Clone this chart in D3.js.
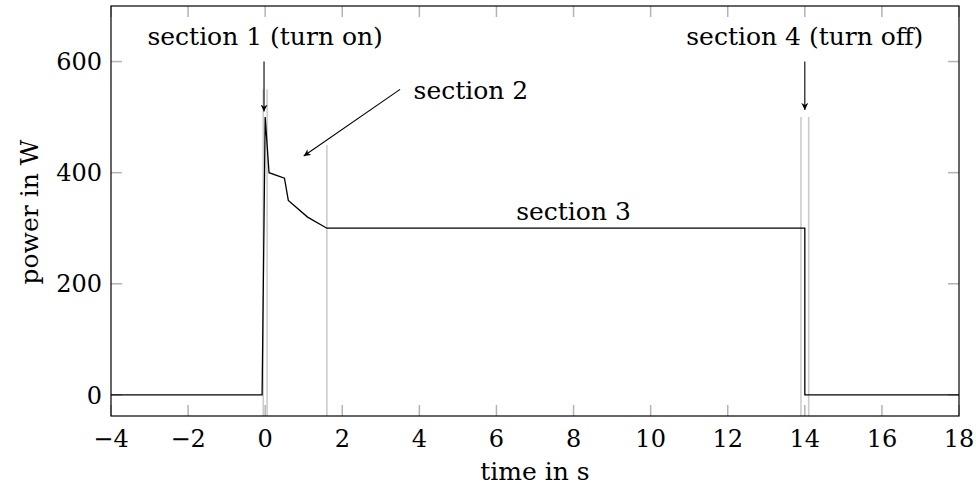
<!DOCTYPE html>
<html>
<head>
<meta charset="utf-8">
<script src="https://cdn.jsdelivr.net/npm/d3@7"></script>
<style>
  html, body { margin: 0; padding: 0; background: #fff; }
  svg text { font-family: "DejaVu Serif", serif; fill: #000; }
</style>
</head>
<body>
<svg id="chart" width="976" height="493"></svg>
<script>
// Power trace of the device over time
const timeS  = [-4, -0.08, 0, 0.1, 0.5, 0.6, 1.1, 1.6, 14, 14, 18];
const powerW = [0, 0, 500, 400, 390, 350, 320, 300, 300, 0, 0];

// Section boundary markers: x position and the power at which each line starts
const markerX   = [-0.05, 0.05, 1.6, 13.9, 14.1];
const markerTop = [550, 550, 450, 500, 500];

const xTicks = [-4, -2, 0, 2, 4, 6, 8, 10, 12, 14, 16, 18];
const yTicks = [0, 200, 400, 600];

// Annotations: label text, label anchor, arrow start and end (data units)
const noteText   = ["section 1 (turn on)", "section 2", "section 3", "section 4 (turn off)"];
const noteLabelX = [0, 3.85, 8, 14];
const noteLabelY = [630, 532, 315, 630];
const noteAnchor = ["middle", "start", "middle", "middle"];
const arrowFrom  = [[-0.03, 600], [3.5, 550], null, [14, 600]];
const arrowTo    = [[-0.03, 510], [1.0, 430], null, [14, 513]];

const svg = d3.select("#chart");
const m = { left: 111, right: 17, top: 6, bottom: 77 };
const W = 976 - m.left - m.right, H = 493 - m.top - m.bottom;

const x = d3.scaleLinear().domain([-4, 18]).range([0, W]);
const y = d3.scaleLinear().domain([-38, 700]).range([H, 0]);

const g = svg.append("g").attr("transform", `translate(${m.left},${m.top})`);

const defs = svg.append("defs");
defs.append("marker").attr("id", "arrow")
  .attr("viewBox", "0 0 10 10").attr("refX", 10).attr("refY", 5)
  .attr("markerWidth", 7).attr("markerHeight", 7).attr("markerUnits", "userSpaceOnUse")
  .attr("orient", "auto")
  .append("path").attr("d", "M0,0 L10,5 L0,10 L3,5 Z").attr("fill", "#000");

// Section boundary lines
g.selectAll("line.marker").data(markerX).join("line")
  .attr("class", "marker")
  .attr("x1", d => x(d)).attr("x2", d => x(d))
  .attr("y1", (d, i) => y(markerTop[i])).attr("y2", H)
  .attr("stroke", "#cccccc").attr("stroke-width", 1.6);

// Inward ticks on all four sides
const tickLen = 11;
const tickColor = "#b3b3b3";
xTicks.forEach(t => {
  g.append("line").attr("x1", x(t)).attr("x2", x(t)).attr("y1", H).attr("y2", H - tickLen)
    .attr("stroke", tickColor).attr("stroke-width", 1.5);
  g.append("line").attr("x1", x(t)).attr("x2", x(t)).attr("y1", 0).attr("y2", tickLen)
    .attr("stroke", tickColor).attr("stroke-width", 1.5);
});
yTicks.forEach(t => {
  g.append("line").attr("x1", 0).attr("x2", tickLen).attr("y1", y(t)).attr("y2", y(t))
    .attr("stroke", tickColor).attr("stroke-width", 1.5);
  g.append("line").attr("x1", W).attr("x2", W - tickLen).attr("y1", y(t)).attr("y2", y(t))
    .attr("stroke", tickColor).attr("stroke-width", 1.5);
});

// Data line
const pts = timeS.map((t, i) => [t, powerW[i]]);
g.append("path").datum(pts)
  .attr("d", d3.line().x(d => x(d[0])).y(d => y(d[1])))
  .attr("fill", "none").attr("stroke", "#000").attr("stroke-width", 1.3)
  .attr("stroke-linejoin", "miter");

// Annotation arrows and labels
noteText.forEach((txt, i) => {
  if (arrowFrom[i]) {
    g.append("line")
      .attr("x1", x(arrowFrom[i][0])).attr("y1", y(arrowFrom[i][1]))
      .attr("x2", x(arrowTo[i][0])).attr("y2", y(arrowTo[i][1]))
      .attr("stroke", "#000").attr("stroke-width", 1.1)
      .attr("marker-end", "url(#arrow)");
  }
  g.append("text")
    .attr("x", x(noteLabelX[i])).attr("y", y(noteLabelY[i]))
    .attr("text-anchor", noteAnchor[i])
    .style("font-size", "25px")
    .text(txt);
});

// Frame
g.append("rect").attr("x", 0).attr("y", 0).attr("width", W).attr("height", H)
  .attr("fill", "none").attr("stroke", "#000").attr("stroke-width", 1.2);

// Tick labels
const fmt = d => d < 0 ? "\u2212" + Math.abs(d) : String(d);
g.selectAll("text.xt").data(xTicks).join("text")
  .attr("class", "xt")
  .attr("x", d => x(d)).attr("y", H + 31)
  .attr("text-anchor", "middle").style("font-size", "24px")
  .text(fmt);
g.selectAll("text.yt").data(yTicks).join("text")
  .attr("class", "yt")
  .attr("x", -9).attr("y", d => y(d)).attr("dy", "0.36em")
  .attr("text-anchor", "end").style("font-size", "24px")
  .text(fmt);

// Axis titles
g.append("text").attr("x", W / 2).attr("y", H + 64)
  .attr("text-anchor", "middle").style("font-size", "25px").text("time in s");
g.append("text")
  .attr("transform", `translate(${-73},${H / 2 + 1}) rotate(-90)`)
  .attr("text-anchor", "middle").style("font-size", "25px").text("power in W");
</script>
</body>
</html>
